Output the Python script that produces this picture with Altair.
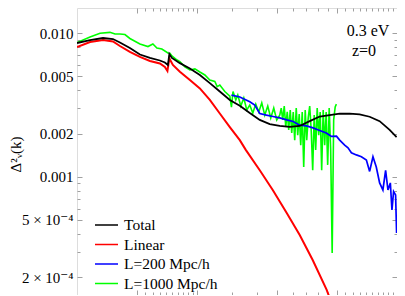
import altair as alt
import pandas as pd

# ---------------- data ----------------
total_k = [0.0500, 0.0581, 0.0675, 0.0757, 0.0820, 0.0920, 0.1033, 0.1159, 0.1300, 0.1377,
           0.1426, 0.1450, 0.1493, 0.1637, 0.1837, 0.2061, 0.2312, 0.2594, 0.2911, 0.3266,
           0.3664, 0.4111, 0.4613, 0.5176, 0.5807, 0.6516, 0.7311, 0.8203, 0.9204, 1.0328,
           1.159, 1.300, 1.459, 1.637, 1.837, 1.991]
total_d = [0.00855, 0.00897, 0.00927, 0.00912, 0.00862, 0.00789, 0.00711, 0.00673, 0.00646, 0.00626,
           0.00601, 0.00717, 0.00673, 0.00619, 0.00569, 0.00512, 0.00449, 0.00393, 0.00343, 0.00313,
           0.00278, 0.00249, 0.00233, 0.00226, 0.00223, 0.00226, 0.00244, 0.00263, 0.00269, 0.00275,
           0.00275, 0.00272, 0.00262, 0.00244, 0.00212, 0.00189]

linear_k = [0.0500, 0.0581, 0.0675, 0.0757, 0.0820, 0.0920, 0.1033, 0.1159, 0.1300, 0.1377,
            0.1418, 0.1450, 0.1510, 0.1637, 0.1837, 0.2061, 0.2312, 0.2594, 0.2911, 0.3266,
            0.3499, 0.4111, 0.4775, 0.5610, 0.6516, 0.7567, 0.8891, 0.9204]
linear_d = [0.00802, 0.00869, 0.00897, 0.00876, 0.00815, 0.00741, 0.00684, 0.00641, 0.00616, 0.00582,
            0.00546, 0.00668, 0.00601, 0.00540, 0.00472, 0.00413, 0.00343, 0.00276, 0.00222, 0.00180,
            0.00154, 0.00111, 0.000809, 0.000559, 0.000393, 0.000263, 0.000163, 0.000143]

l200_k = [0.2966, 0.3266, 0.3664, 0.3881, 0.4111, 0.4439, 0.4790, 0.5176, 0.5610, 0.6040,
          0.6516, 0.7041, 0.7600, 0.8203, 0.8857, 0.9390, 0.9953, 1.0328, 1.094, 1.137,
          1.182, 1.252, 1.327, 1.405, 1.459, 1.516, 1.575, 1.637, 1.700, 1.754,
          1.802, 1.852, 1.887, 1.923, 1.968, 1.991]
l200_d = [0.00371, 0.00360, 0.00333, 0.00316, 0.00276, 0.00269, 0.00263, 0.00257, 0.00249, 0.00243,
          0.00229, 0.00226, 0.00219, 0.00210, 0.00202, 0.00191, 0.00192, 0.00180, 0.00166, 0.00159,
          0.00147, 0.00142, 0.00138, 0.00131, 0.00109, 0.00138, 0.00117, 0.000906, 0.000809, 0.00111,
          0.000809, 0.000906, 0.000587, 0.000790, 0.000747, 0.000406]

l1000_k = [0.0500, 0.0581, 0.0652, 0.0731, 0.0775, 0.0820, 0.0869, 0.0920, 0.1033, 0.1133,
           0.1199, 0.1256, 0.1330, 0.1426, 0.1459, 0.1493, 0.1585, 0.1637, 0.1734, 0.1837,
           0.1946, 0.2061, 0.2183, 0.2312, 0.2449, 0.2516, 0.2594, 0.2748, 0.2911, 0.2966,
           0.3020, 0.3119, 0.3191, 0.3303, 0.3420, 0.3540, 0.3664, 0.3793, 0.3926, 0.4064,
           0.4207, 0.4355, 0.4508, 0.4667, 0.4831, 0.5000, 0.5176, 0.5266, 0.5358, 0.5452,
           0.5547, 0.5643, 0.5741, 0.5842, 0.5943, 0.6047, 0.6151, 0.6259, 0.6368, 0.6479,
           0.6592, 0.6707, 0.6823, 0.6942, 0.7063, 0.7186, 0.7311, 0.7438, 0.7568, 0.7700,
           0.7834, 0.7970, 0.8110, 0.8250, 0.8394, 0.8541, 0.8689, 0.8840, 0.8995, 0.9151,
           0.9311, 0.9473, 0.9638, 0.9806, 0.9945]
l1000_d = [0.00862, 0.00942, 0.01000, 0.01015, 0.00988, 0.00988, 0.00980, 0.00920, 0.00842, 0.00808,
           0.00842, 0.00789, 0.00777, 0.00729, 0.00725, 0.00695, 0.00651, 0.00634, 0.00584, 0.00555,
           0.00565, 0.00537, 0.00512, 0.00472, 0.00461, 0.00425, 0.00436, 0.00393, 0.00364, 0.00306,
           0.00393, 0.00343, 0.00371, 0.00311, 0.00354, 0.00292, 0.00316, 0.00278, 0.00321, 0.00283,
           0.00327, 0.00269, 0.00311, 0.00257, 0.00301, 0.00249, 0.00269, 0.00301, 0.00249, 0.00311,
           0.00222, 0.00283, 0.00212, 0.00292, 0.00202, 0.00283, 0.00180, 0.00301, 0.00195, 0.00274,
           0.00166, 0.00283, 0.00117, 0.00292, 0.00180, 0.00257, 0.00311, 0.00212, 0.00111, 0.00269,
           0.00154, 0.00301, 0.00195, 0.00283, 0.00111, 0.00292, 0.00166, 0.00283, 0.00121, 0.00301,
           0.00154, 0.000294, 0.00249, 0.00306, 0.00321]

series_names = ["Total", "Linear", "L=200 Mpc/h", "L=1000 Mpc/h"]
series_colors = ["#000000", "#ff0000", "#0000ff", "#00ff00"]

y_major = [0.01, 0.005, 0.002, 0.001, 0.0005, 0.0002]
y_all = [0.0002, 0.0003, 0.0004, 0.0005, 0.0006, 0.0007, 0.0008, 0.0009,
         0.001, 0.002, 0.003, 0.004, 0.005, 0.006, 0.007, 0.008, 0.009, 0.01]
x_ticks = [0.1, 0.11, 0.12, 0.13, 0.14, 0.15, 0.16, 0.17, 0.18, 0.19, 0.2,
           0.3, 0.4, 0.5, 0.6, 0.7, 0.8, 0.9, 1.0, 1.1, 1.2, 1.3, 1.4, 1.5,
           1.6, 1.7, 1.8, 1.9, 2.0]

rows = []
for name, ks, ds in [("Total", total_k, total_d), ("Linear", linear_k, linear_d),
                     ("L=200 Mpc/h", l200_k, l200_d), ("L=1000 Mpc/h", l1000_k, l1000_d)]:
    for i, (k, d) in enumerate(zip(ks, ds)):
        rows.append({"series": name, "k": k, "d": d, "i": i})
df = pd.DataFrame(rows)

W, H = 320, 287
SERIF = "Liberation Serif, Times New Roman, DejaVu Serif, serif"
FRAME = "#a0a0a0"

xscale = alt.Scale(type="log", domain=[0.05, 2.0], nice=False)
yscale = alt.Scale(type="log", domain=[0.00015, 0.015], nice=False)
color = alt.Color("series:N",
                  scale=alt.Scale(domain=series_names, range=series_colors),
                  legend=alt.Legend(orient="none", legendX=17, legendY=210, title=None,
                                    symbolType="stroke", symbolSize=529, symbolStrokeWidth=1.5,
                                    labelFont=SERIF, labelFontSize=15.5, labelOffset=5,
                                    labelColor="#000000",
                                    rowPadding=3.5, clipHeight=14, padding=0))

yexpr = ("datum.value == 0.01 ? '0.010' : datum.value == 0.005 ? '0.005' : "
         "datum.value == 0.002 ? '0.002' : datum.value == 0.001 ? '0.001' : "
         "datum.value == 0.0005 ? '5 \u00d7 10\u207b\u2074' : '2 \u00d7 10\u207b\u2074'")
ytick_cond = {"condition": {"test": "indexof([0.01,0.005,0.002,0.001,0.0005,0.0002], datum.value) >= 0",
                            "value": 5}, "value": 3}
xtick_cond = {"condition": {"test": "indexof([0.1,0.2,0.5,1,2], datum.value) >= 0", "value": 5},
              "value": 3}

y_label_axis = alt.Axis(orient="left", values=y_major, labelExpr=yexpr, ticks=False, tickSize=0,
                        domain=False, grid=False, labelPadding=4, labelFont=SERIF,
                        labelFontSize=15, labelColor="#000000",
                        title="\u0394\u00b2\u1d65(k)", titleFont=SERIF, titleFontSize=15,
                        titleFontWeight="normal", titleColor="#000000",
                        titleX=-54, titleY=146, titleAngle=270, titleBaseline="bottom",
                        titleAlign="center")
y_left_ticks = alt.Axis(orient="right", offset=-W, values=y_all, labels=False, domain=False,
                        grid=False, tickColor=FRAME, tickSize=ytick_cond, title=None)
y_right_ticks = alt.Axis(orient="left", offset=-W, values=y_all, labels=False, domain=False,
                         grid=False, tickColor=FRAME, tickSize=ytick_cond, title=None)
x_bottom_ticks = alt.Axis(orient="top", offset=-H, values=x_ticks, labels=False, domain=False,
                          grid=False, tickColor=FRAME, tickSize=xtick_cond, title=None)
x_top_ticks = alt.Axis(orient="bottom", offset=-H, values=x_ticks, labels=False, domain=False,
                       grid=False, tickColor=FRAME, tickSize=xtick_cond, title=None)

base = alt.Chart(df)


def line_layer(name, xaxis, yaxis, width):
    return base.transform_filter(alt.datum.series == name).mark_line(
        strokeWidth=width, clip=True, interpolate="linear"
    ).encode(
        x=alt.X("k:Q", scale=xscale, axis=xaxis),
        y=alt.Y("d:Q", scale=yscale, axis=yaxis),
        color=color,
        order="i:Q",
    )


g = line_layer("L=1000 Mpc/h", x_bottom_ticks, y_label_axis, 1.6)
bl = line_layer("L=200 Mpc/h", None, y_right_ticks, 1.7)
r = line_layer("Linear", None, None, 2.0)
k = line_layer("Total", x_top_ticks, y_left_ticks, 1.8)

txt1 = alt.Chart(pd.DataFrame({"t": ["0.3 eV"]})).mark_text(
    font=SERIF, fontSize=16, color="#000000", align="center", baseline="middle"
).encode(text="t:N", x=alt.value(291), y=alt.value(23))
txt2 = alt.Chart(pd.DataFrame({"t": ["z=0"]})).mark_text(
    font=SERIF, fontSize=16, color="#000000", align="center", baseline="middle"
).encode(text="t:N", x=alt.value(287), y=alt.value(43))

chart = alt.layer(g, bl, r, k, txt1, txt2).resolve_axis(
    x="independent", y="independent"
).properties(
    width=W, height=H,
    autosize=alt.AutoSizeParams(type="none"),
    padding={"left": 69, "top": 0, "right": 0, "bottom": 0},
).configure_view(stroke=FRAME, strokeWidth=1).configure(background="white")

chart.save("out.html", embed_options={"renderer": "svg", "actions": False})
